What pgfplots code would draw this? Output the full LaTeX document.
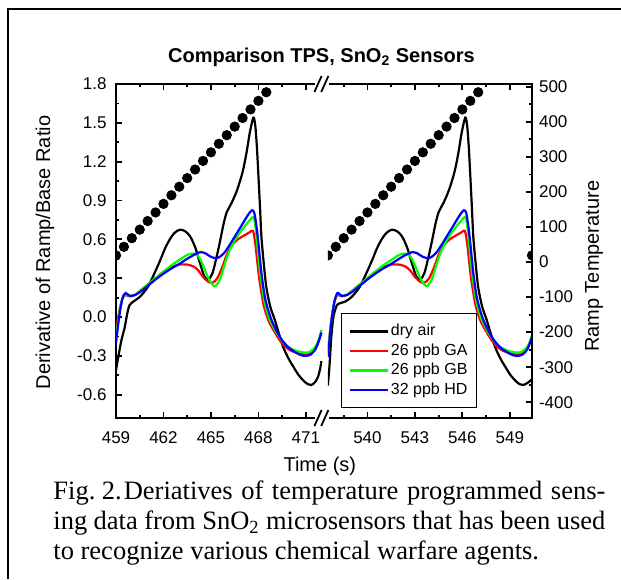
\documentclass[border=0pt]{standalone}
\usepackage{fontspec}
\setmainfont{Liberation Sans}
\newfontfamily\capfont{Liberation Serif}
\usepackage{pgfplots}
\usepackage{pgfplotstable}
\pgfplotsset{compat=1.18}

% ---------- left segment (459-472 s) ----------
\pgfplotstableread{
t v
459.00 -0.41
459.20 -0.27
459.36 -0.17
459.55 -0.08
459.70 0.02
459.85 0.09
460.10 0.12
460.50 0.155
461.00 0.23
461.40 0.33
461.80 0.44
462.10 0.53
462.40 0.60
462.70 0.65
463.05 0.675
463.40 0.66
463.70 0.62
464.00 0.54
464.20 0.46
464.40 0.38
464.60 0.31
464.85 0.29
465.10 0.34
465.35 0.46
465.60 0.60
465.80 0.72
466.00 0.81
466.30 0.88
466.65 0.98
467.00 1.12
467.25 1.27
467.45 1.42
467.68 1.54
467.80 1.48
467.90 1.32
467.98 1.14
468.10 0.85
468.19 0.62
468.35 0.40
468.50 0.23
468.75 0.08
469.03 -0.02
469.30 -0.13
469.56 -0.23
469.90 -0.32
470.19 -0.38
470.55 -0.45
470.92 -0.50
471.15 -0.52
471.35 -0.525
471.60 -0.50
471.77 -0.46
471.90 -0.40
471.98 -0.34
}\blackL
\pgfplotstableread{
t v
459.00 -0.12
459.20 0.04
459.40 0.14
459.60 0.17
459.85 0.16
460.20 0.17
460.60 0.21
461.00 0.25
461.50 0.30
462.00 0.35
462.50 0.385
463.00 0.405
463.50 0.405
463.90 0.39
464.20 0.36
464.50 0.31
464.80 0.275
465.10 0.265
465.40 0.30
465.70 0.38
466.00 0.48
466.30 0.55
466.70 0.60
467.10 0.63
467.45 0.655
467.66 0.665
467.80 0.57
467.90 0.46
468.05 0.30
468.30 0.11
468.50 0.02
468.72 -0.05
469.00 -0.11
469.35 -0.18
469.70 -0.23
469.98 -0.255
470.50 -0.28
471.00 -0.29
471.30 -0.28
471.60 -0.24
471.80 -0.19
471.98 -0.12
}\redL
\pgfplotstableread{
t v
459.00 -0.16
459.20 0.02
459.40 0.14
459.60 0.175
459.85 0.165
460.20 0.17
460.60 0.21
461.00 0.25
461.50 0.30
462.00 0.35
462.50 0.40
463.00 0.44
463.50 0.48
463.90 0.49
464.20 0.47
464.50 0.40
464.80 0.31
465.10 0.25
465.30 0.24
465.60 0.30
465.90 0.42
466.20 0.52
466.60 0.61
467.00 0.68
467.40 0.74
467.70 0.77
467.85 0.66
467.95 0.53
468.10 0.35
468.35 0.14
468.55 0.04
468.75 -0.03
469.00 -0.09
469.35 -0.16
469.70 -0.21
470.00 -0.24
470.50 -0.265
471.00 -0.275
471.30 -0.265
471.60 -0.23
471.80 -0.18
471.98 -0.10
}\greenL
\pgfplotstableread{
t v
459.00 -0.20
459.20 0.00
459.40 0.14
459.60 0.185
459.85 0.165
460.20 0.17
460.60 0.20
461.00 0.24
461.50 0.29
462.00 0.335
462.50 0.375
463.00 0.41
463.50 0.45
464.00 0.485
464.30 0.50
464.60 0.495
465.00 0.465
465.40 0.455
465.80 0.49
466.20 0.56
466.60 0.64
467.00 0.72
467.35 0.79
467.60 0.825
467.75 0.80
467.90 0.68
468.00 0.57
468.20 0.33
468.40 0.16
468.60 0.06
468.85 -0.03
469.20 -0.12
469.50 -0.18
469.90 -0.235
470.30 -0.27
470.70 -0.295
471.00 -0.30
471.30 -0.29
471.60 -0.25
471.80 -0.19
471.98 -0.12
}\blueL

% ---------- right segment (537.5-550.4 s) ----------
\pgfplotstableread{
t v
537.50 -0.53
537.60 -0.38
537.72 -0.15
537.85 0.00
538.00 0.07
538.14 0.10
538.60 0.12
539.00 0.155
539.50 0.23
539.90 0.33
540.30 0.44
540.60 0.53
540.90 0.60
541.20 0.65
541.55 0.675
541.90 0.66
542.20 0.62
542.50 0.54
542.70 0.46
542.90 0.38
543.10 0.31
543.35 0.29
543.60 0.34
543.85 0.46
544.10 0.60
544.30 0.72
544.50 0.81
544.80 0.88
545.15 0.98
545.50 1.12
545.75 1.27
545.95 1.42
546.18 1.54
546.30 1.48
546.40 1.32
546.48 1.14
546.60 0.85
546.69 0.62
546.85 0.40
547.00 0.23
547.25 0.08
547.53 -0.02
547.80 -0.13
548.06 -0.23
548.40 -0.32
548.69 -0.38
549.05 -0.45
549.42 -0.50
549.65 -0.52
549.85 -0.525
550.10 -0.51
550.40 -0.48
550.60 -0.44
}\blackR
\pgfplotstableread{
t v
537.50 -0.28
537.70 -0.04
537.90 0.11
538.10 0.17
538.35 0.16
538.70 0.17
539.10 0.21
539.50 0.25
540.00 0.30
540.50 0.35
541.00 0.385
541.50 0.405
542.00 0.405
542.40 0.39
542.70 0.36
543.00 0.31
543.30 0.275
543.60 0.265
543.90 0.30
544.20 0.38
544.50 0.48
544.80 0.55
545.20 0.60
545.60 0.63
545.95 0.655
546.16 0.665
546.30 0.57
546.40 0.46
546.55 0.30
546.80 0.11
547.00 0.02
547.22 -0.05
547.50 -0.11
547.85 -0.18
548.20 -0.23
548.48 -0.255
549.00 -0.28
549.50 -0.29
549.80 -0.28
550.10 -0.24
550.30 -0.19
550.48 -0.12
}\redR
\pgfplotstableread{
t v
537.50 -0.27
537.70 -0.05
537.90 0.11
538.10 0.175
538.35 0.165
538.70 0.17
539.10 0.21
539.50 0.25
540.00 0.30
540.50 0.35
541.00 0.40
541.50 0.44
542.00 0.48
542.40 0.49
542.70 0.47
543.00 0.40
543.30 0.31
543.60 0.25
543.80 0.24
544.10 0.30
544.40 0.42
544.70 0.52
545.10 0.61
545.50 0.68
545.90 0.74
546.20 0.77
546.35 0.66
546.45 0.53
546.60 0.35
546.85 0.14
547.05 0.04
547.25 -0.03
547.50 -0.09
547.85 -0.16
548.20 -0.21
548.50 -0.24
549.00 -0.265
549.50 -0.275
549.80 -0.265
550.10 -0.23
550.30 -0.18
550.48 -0.10
}\greenR
\pgfplotstableread{
t v
537.50 -0.31
537.70 -0.06
537.90 0.11
538.10 0.185
538.35 0.165
538.70 0.17
539.10 0.20
539.50 0.24
540.00 0.29
540.50 0.335
541.00 0.375
541.50 0.41
542.00 0.45
542.50 0.485
542.80 0.50
543.10 0.495
543.50 0.465
543.90 0.455
544.30 0.49
544.70 0.56
545.10 0.64
545.50 0.72
545.85 0.79
546.10 0.825
546.25 0.80
546.40 0.68
546.50 0.57
546.70 0.33
546.90 0.16
547.10 0.06
547.35 -0.03
547.70 -0.12
548.00 -0.18
548.40 -0.235
548.80 -0.27
549.20 -0.295
549.50 -0.30
549.80 -0.29
550.10 -0.25
550.30 -0.19
550.48 -0.12
}\blueR

% ---------- ramp temperature ----------
\pgfplotstableread{
t T
459.0 19
459.5 43.5
460.0 68
460.5 92.5
461.0 117
461.5 141.5
462.0 166
462.5 190.5
463.0 215
463.5 239.5
464.0 264
464.5 288.5
465.0 313
465.5 337.5
466.0 362
466.5 386.5
467.0 411
467.5 435.5
468.0 460
468.5 484.5
}\tempL
\pgfplotstableread{
t T
537.5 19
538.0 43.5
538.5 68
539.0 92.5
539.5 117
540.0 141.5
540.5 166
541.0 190.5
541.5 215
542.0 239.5
542.5 264
543.0 288.5
543.5 313
544.0 337.5
544.5 362
545.0 386.5
545.5 411
546.0 435.5
546.5 460
547.0 484.5
550.4 19
}\tempR

\def\shift{65.11}

\begin{document}
\begin{tikzpicture}[x=1pt,y=1pt]
\useasboundingbox (0,0) rectangle (310.5,289.5);
\draw[line width=0.85pt] (4.1,0) -- (4.1,285) -- (310.5,285);

\begin{axis}[
  at={(58pt,80.5pt)}, anchor=south west,
  scale only axis, width=208pt, height=167pt,
  xmin=459, xmax=485.29, ymin=-0.78, ymax=1.80,
  axis line style={line width=1pt},
  tick align=inside,
  xtick={459,462,465,468,471,474.89,477.89,480.89,483.89},
  xticklabels={459,462,465,468,471,540,543,546,549},
  minor xtick={460.5,463.5,466.5,469.5,473.39,476.39,479.39,482.39},
  ytick={-0.6,-0.3,0,0.3,0.6,0.9,1.2,1.5,1.8},
  yticklabels={-0.6,-0.3,0.0,0.3,0.6,0.9,1.2,1.5,1.8},
  minor y tick num=1,
  ytick pos=left,
  major tick length=3pt, minor tick length=1.6pt,
  every tick/.style={black, line width=0.9pt},
  tick label style={font=\fontsize{8.5}{10}\selectfont},
  xticklabel style={yshift=-3.2pt},
  yticklabel style={xshift=-1.2pt},
  label style={font=\fontsize{10}{12}\selectfont},
  xlabel={Time (s)},
  ylabel={Derivative of Ramp/Base Ratio},
  xlabel style={at={(axis description cs:0.490,-0.1437)}, anchor=center},
  ylabel style={at={(axis description cs:-0.171,0.4955)}, anchor=center},
  title={Comparison TPS, SnO\textsubscript{2} Sensors},
  every axis title shift=0pt,
  title style={at={(axis description cs:0.494,1.081)}, anchor=center, font=\bfseries\fontsize{10}{12}\selectfont},
  legend style={at={(rel axis cs:0.541,0.314)}, anchor=north west, draw=black, line width=0.5pt,
    font=\fontsize{8}{9.75}\selectfont, inner xsep=3.5pt, inner ysep=4pt,
    nodes={inner sep=1pt, text height=6pt, text depth=1.75pt}},
  legend cell align=left,
  legend image code/.code={\draw[#1, line width=1.2pt] (0pt,0pt) -- (19pt,0pt);},
]
\addplot[black, line width=1.1pt, smooth] table[x=t,y=v] {\blackL};
\addlegendentry{dry air}
\addplot[red, line width=1.1pt, smooth] table[x=t,y=v] {\redL};
\addlegendentry{26 ppb GA}
\addplot[green, line width=1.1pt, smooth] table[x=t,y=v] {\greenL};
\addlegendentry{26 ppb GB}
\addplot[blue, line width=1.1pt, smooth] table[x=t,y=v] {\blueL};
\addlegendentry{32 ppb HD}
\begin{scope}
\clip (axis cs:472.39,-0.78) rectangle (axis cs:485.29,1.80);
\addplot[black, line width=1.1pt, smooth, forget plot] table[x expr=\thisrow{t}-\shift,y=v] {\blackR};
\addplot[red, line width=1.1pt, smooth, forget plot] table[x expr=\thisrow{t}-\shift,y=v] {\redR};
\addplot[green, line width=1.1pt, smooth, forget plot] table[x expr=\thisrow{t}-\shift,y=v] {\greenR};
\addplot[blue, line width=1.1pt, smooth, forget plot] table[x expr=\thisrow{t}-\shift,y=v] {\blueR};
\end{scope}
\end{axis}

\begin{axis}[
  at={(58pt,80.5pt)}, anchor=south west,
  scale only axis, width=208pt, height=167pt,
  xmin=459, xmax=485.29, ymin=-445, ymax=508,
  hide x axis,
  axis y line*=right,
  axis line style={line width=1pt},
  tick align=inside,
  clip marker paths=true,
  ytick={-400,-300,-200,-100,0,100,200,300,400,500},
  yticklabels={-400,-300,-200,-100,0,100,200,300,400,500},
  minor y tick num=1,
  major tick length=3pt, minor tick length=1.6pt,
  every tick/.style={black, line width=0.9pt},
  tick label style={font=\fontsize{8.5}{10}\selectfont},
  label style={font=\fontsize{10}{12}\selectfont},
  ylabel={Ramp Temperature},
  ylabel style={at={(axis description cs:1.149,0.454)}, anchor=center},
]
\begin{scope}
\clip (axis cs:459,-445) rectangle (axis cs:472.0,508);
\addplot[only marks, mark=*, mark size=2.35pt, black] table[x=t,y=T] {\tempL};
\end{scope}
\begin{scope}
\clip (axis cs:472.39,-445) rectangle (axis cs:485.29,508);
\addplot[only marks, mark=*, mark size=2.35pt, black] table[x expr=\thisrow{t}-\shift,y=T] {\tempR};
\end{scope}
\end{axis}

% axis break marks
\fill[white] (157.6,77) rectangle (164.6,84);
\fill[white] (157.6,244) rectangle (164.6,251);
\draw[line width=0.9pt] (157.2,76.5) -- (160.8,84.5) (160.6,76.5) -- (164.2,84.5);
\draw[line width=0.9pt] (157.2,243.5) -- (160.8,251.5) (160.6,243.5) -- (164.2,251.5);

% caption
\node[anchor=base west, inner sep=0] at (26.5,40) {\capfont\fontsize{13.25}{15}\selectfont\makebox[276pt][s]{Fig.\kern3.3pt 2.\kern1pt Deriatives of temperature programmed sens-}};
\node[anchor=base west, inner sep=0] at (26.5,25) {\capfont\fontsize{13.25}{15}\selectfont\makebox[276pt][s]{ing data from SnO\textsubscript{2} microsensors that has been used}};
\node[anchor=base west, inner sep=0] at (26.5,10) {\capfont\fontsize{13.25}{15}\selectfont to recognize various chemical warfare agents.};
\end{tikzpicture}
\end{document}
